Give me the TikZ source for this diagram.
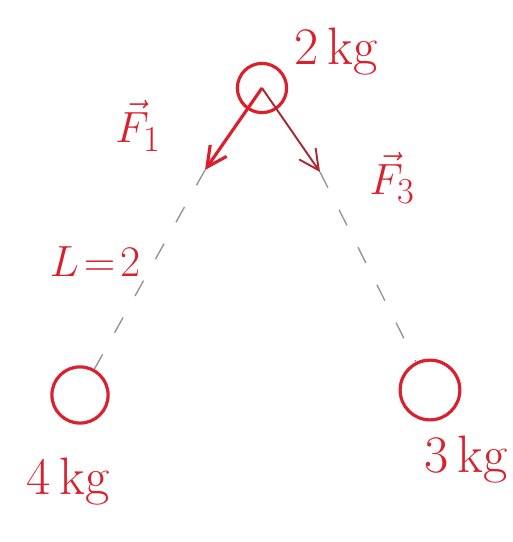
\documentclass[tikz,border=0pt]{standalone}
\usepackage{amsmath,amssymb}
\usepackage{tikz}
\usetikzlibrary{arrows.meta,positioning}
\definecolor{inkred}{RGB}{218,32,44}
\definecolor{inkdark}{RGB}{170,40,50}
\definecolor{penc}{RGB}{150,150,150}

\begin{document}
\begin{tikzpicture}[
				x=0.02cm,y=-0.02cm,
				every node/.style={font=\fontsize{30}{34}\selectfont,text=inkred},
				mass/.style={
					circle,
					draw=inkred,
					line width=1.8pt,
					inner sep=0pt
				},
				force/.style={
					-{Straight Barb[length=4mm,width=4mm]},
					line width=1.8pt,
					draw=inkred
				},
				rod/.style={
					draw=penc,
					dashed,
					dash pattern=on 10pt off 14pt,
					line width=0.8pt
				}
				]
				\useasboundingbox (0,0) rectangle (513,542);
				\node[mass,minimum size=28pt] (top) at (262,88) {};
				\node[mass,minimum size=32pt] (left) at (80,395) {};
				\node[mass,minimum size=34pt] (right) at (430,390) {};
				\coordinate (f1tip) at (205,170);
				\coordinate (f3tip) at (320,172);
				
				\node (topkg) at (336,52) {2\,kg};
				\node (f1lbl) at (138,126) {$\vec{F}_1$};
				\node (f3lbl) at (392,178) {$\vec{F}_3$};
				\node (len) at (95,262) {$L\!=\!2$};
				\node (leftkg) at (68,482) {4\,kg};
				\node (rightkg) at (466,460) {3\,kg};
				
				\draw[force] (top.center) -- (f1tip);
				\draw[force,draw=inkdark,line width=1.1pt] (top.center) -- (f3tip);
				\draw[rod] (f1tip) -- (left);
				\draw[rod] (f3tip) -- (right);
			\end{tikzpicture}
\end{document}
